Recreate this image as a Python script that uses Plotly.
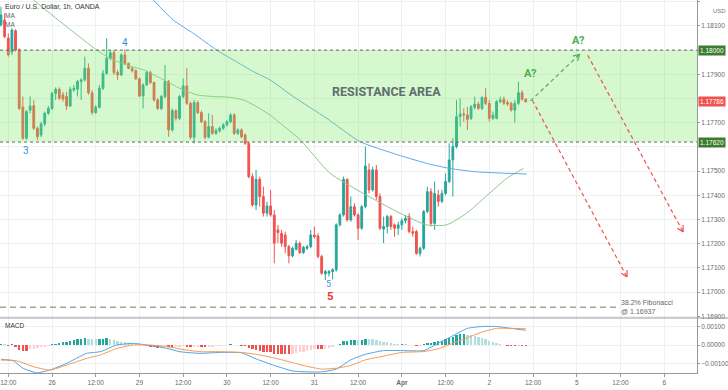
import math
import plotly.graph_objects as go
from plotly.subplots import make_subplots

# ---------------- data (hourly candles, index 0..144) ----------------
opens = [1.18104,1.18124,1.18050,1.17992,1.18080,1.18000,1.17764,1.17636,1.17752,1.17770,
         1.17677,1.17649,1.17695,1.17739,1.17759,1.17821,1.17838,1.17815,1.17808,1.17769,
         1.17835,1.17838,1.17870,1.17877,1.17925,1.17824,1.17742,1.17764,1.17842,1.17904,
         1.17966,1.17989,1.17907,1.17897,1.17980,1.17945,1.17925,1.17915,1.17881,1.17810,
         1.17856,1.17907,1.17866,1.17794,1.17759,1.17808,1.17870,1.17670,1.17750,1.17718,
         1.17808,1.17852,1.17780,1.17640,1.17783,1.17742,1.17704,1.17640,1.17684,1.17656,
         1.17667,1.17677,1.17691,1.17704,1.17732,1.17656,1.17670,1.17649,1.17615,1.17477,
         1.17360,1.17466,1.17395,1.17326,1.17356,1.17319,1.17257,1.17243,1.17236,1.17188,
         1.17150,1.17177,1.17202,1.17163,1.17181,1.17188,1.17236,1.17232,1.17147,1.17075,
         1.17078,1.17085,1.17092,1.17278,1.17319,1.17466,1.17298,1.17353,1.17319,1.17264,
         1.17353,1.17505,1.17422,1.17505,1.17395,1.17261,1.17271,1.17312,1.17278,1.17264,
         1.17278,1.17295,1.17312,1.17250,1.17250,1.17160,1.17181,1.17333,1.17415,1.17284,
         1.17401,1.17374,1.17408,1.17457,1.17546,1.17601,1.17725,1.17736,1.17732,1.17718,
         1.17764,1.17777,1.17759,1.17805,1.17780,1.17718,1.17718,1.17787,1.17797,1.17783,
         1.17780,1.17752,1.17780,1.17824,1.17797]
highs = [1.18179,1.18152,1.18069,1.18090,1.18086,1.18007,1.17808,1.17752,1.17808,1.17794,
         1.17684,1.17704,1.17746,1.17769,1.17828,1.17846,1.17846,1.17828,1.17828,1.17849,
         1.17856,1.17877,1.17883,1.17973,1.17945,1.17835,1.17773,1.17856,1.17918,1.18049,
         1.18000,1.17998,1.17918,1.17987,1.18003,1.17948,1.17932,1.17921,1.17888,1.17863,
         1.17915,1.17915,1.17870,1.17801,1.17815,1.17938,1.17877,1.17759,1.17755,1.17815,
         1.17883,1.17925,1.17787,1.17794,1.17791,1.17750,1.17711,1.17739,1.17732,1.17677,
         1.17684,1.17698,1.17711,1.17739,1.17739,1.17677,1.17677,1.17656,1.17622,1.17491,
         1.17505,1.17477,1.17436,1.17374,1.17422,1.17339,1.17278,1.17257,1.17250,1.17195,
         1.17188,1.17216,1.17209,1.17191,1.17195,1.17257,1.17271,1.17243,1.17154,1.17092,
         1.17092,1.17099,1.17284,1.17326,1.17477,1.17470,1.17395,1.17367,1.17326,1.17360,
         1.17601,1.17532,1.17518,1.17525,1.17408,1.17312,1.17319,1.17319,1.17284,1.17291,
         1.17305,1.17319,1.17326,1.17271,1.17257,1.17188,1.17339,1.17436,1.17429,1.17457,
         1.17422,1.17422,1.17491,1.17615,1.17636,1.17794,1.17801,1.17759,1.17766,1.17773,
         1.17808,1.17787,1.17808,1.17842,1.17794,1.17746,1.17794,1.17808,1.17808,1.17794,
         1.17787,1.17794,1.17870,1.17835,1.17801]
lows = [1.18097,1.18049,1.17973,1.17980,1.17994,1.17752,1.17629,1.17629,1.17739,1.17670,
        1.17629,1.17640,1.17686,1.17732,1.17752,1.17794,1.17794,1.17787,1.17752,1.17764,
        1.17828,1.17808,1.17794,1.17870,1.17815,1.17732,1.17736,1.17759,1.17835,1.17897,
        1.17959,1.17897,1.17877,1.17893,1.17938,1.17921,1.17907,1.17877,1.17805,1.17759,
        1.17852,1.17860,1.17787,1.17752,1.17752,1.17801,1.17642,1.17663,1.17708,1.17711,
        1.17801,1.17773,1.17631,1.17615,1.17736,1.17698,1.17631,1.17636,1.17649,1.17649,
        1.17659,1.17670,1.17684,1.17698,1.17649,1.17649,1.17636,1.17608,1.17470,1.17353,
        1.17339,1.17353,1.17312,1.17312,1.17312,1.17119,1.17202,1.17188,1.17160,1.17119,
        1.17144,1.17172,1.17158,1.17158,1.17174,1.17181,1.17222,1.17140,1.17071,1.17050,
        1.17064,1.17053,1.17085,1.17271,1.17312,1.17291,1.17291,1.17312,1.17216,1.17257,
        1.17346,1.17408,1.17415,1.17381,1.17257,1.17202,1.17243,1.17257,1.17229,1.17236,
        1.17257,1.17284,1.17243,1.17229,1.17154,1.17147,1.17174,1.17326,1.17271,1.17257,
        1.17353,1.17367,1.17401,1.17450,1.17395,1.17594,1.17684,1.17704,1.17670,1.17711,
        1.17755,1.17752,1.17752,1.17773,1.17704,1.17711,1.17714,1.17780,1.17773,1.17769,
        1.17746,1.17700,1.17773,1.17791,1.17787]
closes = [1.18145,1.18056,1.17980,1.18083,1.18000,1.17759,1.17636,1.17746,1.17769,1.17677,
          1.17642,1.17695,1.17739,1.17759,1.17821,1.17838,1.17801,1.17798,1.17769,1.17838,
          1.17842,1.17870,1.17877,1.17925,1.17824,1.17742,1.17764,1.17842,1.17904,1.17966,
          1.17989,1.17907,1.17897,1.17980,1.17945,1.17925,1.17915,1.17881,1.17810,1.17856,
          1.17907,1.17866,1.17794,1.17759,1.17808,1.17870,1.17670,1.17750,1.17718,1.17808,
          1.17852,1.17780,1.17640,1.17783,1.17742,1.17704,1.17640,1.17684,1.17656,1.17667,
          1.17677,1.17691,1.17704,1.17732,1.17656,1.17670,1.17642,1.17615,1.17477,1.17360,
          1.17466,1.17395,1.17326,1.17356,1.17319,1.17202,1.17246,1.17202,1.17188,1.17150,
          1.17181,1.17202,1.17163,1.17185,1.17188,1.17236,1.17229,1.17147,1.17078,1.17085,
          1.17085,1.17092,1.17278,1.17319,1.17466,1.17298,1.17353,1.17319,1.17264,1.17353,
          1.17521,1.17422,1.17505,1.17395,1.17264,1.17271,1.17312,1.17271,1.17264,1.17278,
          1.17295,1.17305,1.17250,1.17243,1.17160,1.17181,1.17333,1.17415,1.17284,1.17408,
          1.17374,1.17408,1.17457,1.17546,1.17601,1.17725,1.17736,1.17732,1.17714,1.17766,
          1.17777,1.17759,1.17805,1.17780,1.17718,1.17732,1.17787,1.17794,1.17780,1.17777,
          1.17752,1.17780,1.17824,1.17797,1.17786]

# moving averages (candle index, price)
ma_fast_idx = [8.9, 18.0, 26.3, 29.9, 34.5, 39.1, 44.6, 49.1, 53.7, 58.3, 62.9, 66.5, 70.2, 73.8,
               76.6, 82.1, 90.3, 99.4, 109.5, 116.8, 122.3, 127.8, 131.5, 138.8, 143.4]
ma_fast_vals = [1.18207, 1.18097, 1.18000, 1.17966, 1.17938, 1.17918, 1.17877, 1.17842, 1.17815,
                1.17808, 1.17805, 1.17794, 1.17766, 1.17732, 1.17698, 1.17630, 1.17491, 1.17408,
                1.17326, 1.17278, 1.17278, 1.17326, 1.17374, 1.17470, 1.17511]
ma_slow_idx = [41.8, 47.3, 52.8, 59.2, 63.8, 69.3, 73.8, 80.2, 89.4, 98.5, 107.7, 116.8, 123.2,
               130.5, 144.3]
ma_slow_vals = [1.18207, 1.18124, 1.18069, 1.18000, 1.17959, 1.17911, 1.17877, 1.17808, 1.17718,
                1.17622, 1.17573, 1.17532, 1.17511, 1.17497, 1.17488]

# MACD histogram (one per candle)
macd_hist = [0.00008,0.00005,-0.00003,0.00004,-0.00012,-0.00025,-0.00030,-0.00030,-0.00022,-0.00020,
             -0.00018,-0.00012,-0.00008,-0.00004,0.00005,0.00008,0.00012,0.00016,0.00018,0.00022,
             0.00026,0.00030,0.00033,0.00036,0.00034,0.00033,0.00030,0.00030,0.00032,0.00036,
             0.00033,0.00028,0.00022,0.00018,0.00014,0.00010,0.00006,0.00003,-0.00002,0.00001,
             -0.00003,-0.00008,-0.00012,-0.00014,-0.00010,-0.00006,-0.00012,-0.00014,-0.00012,-0.00010,
             -0.00006,-0.00008,-0.00012,-0.00010,-0.00008,-0.00009,-0.00011,-0.00009,-0.00008,-0.00006,
             -0.00004,-0.00002,0.00001,0.00003,0.00001,-0.00001,-0.00003,-0.00006,-0.00014,-0.00024,
             -0.00028,-0.00032,-0.00036,-0.00038,-0.00040,-0.00046,-0.00048,-0.00049,-0.00050,-0.00050,
             -0.00046,-0.00042,-0.00040,-0.00036,-0.00032,-0.00026,-0.00022,-0.00022,-0.00024,-0.00020,
             -0.00016,-0.00012,-0.00002,0.00008,0.00020,0.00022,0.00026,0.00027,0.00025,0.00028,
             0.00034,0.00033,0.00032,0.00028,0.00020,0.00016,0.00014,0.00011,0.00008,0.00006,
             0.00006,0.00005,0.00002,0.00000,-0.00004,-0.00003,0.00004,0.00012,0.00012,0.00018,
             0.00020,0.00024,0.00030,0.00038,0.00046,0.00056,0.00060,0.00060,0.00056,0.00052,
             0.00048,0.00042,0.00038,0.00032,0.00022,0.00016,0.00012,0.00006,0.00002,-0.00003,
             -0.00006,-0.00006,-0.00004,-0.00006,-0.00007]
macd_idx = [0, 3.4, 6.1, 9.8, 13.4, 18.0, 23.5, 27.2, 31.8, 36.3, 40.0, 45.5, 49.1, 54.6, 60, 66,
            70, 75, 80, 84, 88, 92, 96, 100, 105, 110, 116, 120, 124, 128, 132, 136, 140, 144]
macd_vals = [-0.00077, -0.00085, -0.00126, -0.00150, -0.00135, -0.00099, -0.00045, -0.00036, 0.0,
             0.00009, 0.0, -0.00018, -0.00036, -0.00045, -0.00040, -0.00042, -0.00075, -0.00110,
             -0.00140, -0.00145, -0.00145, -0.00130, -0.00080, -0.00050, -0.00030, -0.00030,
             -0.00030, 0.00010, 0.00050, 0.00090, 0.00100, 0.00100, 0.00090, 0.00080]
signal_idx = [0, 4.3, 8.9, 13.4, 18.0, 23.5, 27.2, 31.8, 36.3, 40.9, 45.5, 51.0, 54.6, 60, 66, 70,
              75, 80, 84, 88, 92, 96, 100, 105, 110, 116, 120, 124, 128, 132, 136, 140, 144]
signal_vals = [-0.00081, -0.00085, -0.00117, -0.00135, -0.00108, -0.00072, -0.00054, -0.00018,
               0.0, 0.0, -0.00009, -0.00027, -0.00036, -0.00036, -0.00040, -0.00050, -0.00070,
               -0.00095, -0.00115, -0.00130, -0.00125, -0.00110, -0.00080, -0.00060, -0.00040,
               -0.00035, -0.00020, 0.00010, 0.00040, 0.00070, 0.00090, 0.00090, 0.00088]

tick_vals = [2, 14, 26, 38, 50, 62, 74, 86, 98, 110, 122, 134, 146, 158, 170, 182]
tick_text = ["12:00", "26", "12:00", "29", "12:00", "30", "12:00", "31", "12:00", "<b>Apr</b>",
             "12:00", "2", "12:00", "5", "12:00", "6"]
price_ticks = [1.169, 1.170, 1.171, 1.172, 1.173, 1.174, 1.175, 1.176, 1.177, 1.178, 1.179,
               1.180, 1.181, 1.182]
price_tick_text = ["1.16900", "1.17000", "1.17100", "1.17200", "1.17300", "1.17400", "1.17500",
                   "", "1.17700", "", "1.17900", "", "1.18100", "1.18200"]
macd_ticks = [-0.001, 0.0, 0.001]
macd_tick_text = ["\u22120.00100", "0.00000", "0.00100"]

resist_top = 1.18000
resist_bottom = 1.17620
fib_level = 1.16937
last_price = 1.17786

# ---------------- layout constants ----------------
W, H = 728, 390
MR, MB = 31, 17
PLOT_W, PLOT_H = W - MR, H - MB
MAIN_H = 318
split = (PLOT_H - MAIN_H) / PLOT_H
X_RANGE = [-0.27, 191.0]
Y_RANGE = [1.16893, 1.18207]
M_RANGE = [-0.00151, 0.00146]
FONT = "Liberation Sans, Arial, sans-serif"

fig = make_subplots(rows=2, cols=1, shared_xaxes=True, vertical_spacing=0)
idx = list(range(len(closes)))

fig.add_trace(go.Candlestick(
    x=idx, open=opens, high=highs, low=lows, close=closes,
    increasing=dict(line=dict(color="#26a69a", width=1), fillcolor="#26a69a"),
    decreasing=dict(line=dict(color="#ef5350", width=1), fillcolor="#ef5350"),
    whiskerwidth=0, hoverinfo="skip", showlegend=False), row=1, col=1)

fig.add_trace(go.Scatter(x=ma_fast_idx, y=ma_fast_vals, mode="lines",
                         line=dict(color="#8cc98c", width=1, shape="spline", smoothing=0.6),
                         showlegend=False, hoverinfo="skip"), row=1, col=1)
fig.add_trace(go.Scatter(x=ma_slow_idx, y=ma_slow_vals, mode="lines",
                         line=dict(color="#62a8e5", width=1, shape="spline", smoothing=0.6),
                         showlegend=False, hoverinfo="skip"), row=1, col=1)

# histogram colours (TradingView style)
hcols = []
for k, v in enumerate(macd_hist):
    prev = macd_hist[k - 1] if k > 0 else v
    if v >= 0:
        hcols.append("#26a69a" if v >= prev else "#b2dfdb")
    else:
        hcols.append("#ef5350" if v <= prev else "#ffcdd2")
fig.add_trace(go.Bar(x=idx, y=macd_hist, marker=dict(color=hcols, line=dict(width=0)),
                     width=0.65, showlegend=False, hoverinfo="skip"), row=2, col=1)
fig.add_trace(go.Scatter(x=macd_idx, y=macd_vals, mode="lines",
                         line=dict(color="#4fa3e8", width=1, shape="spline", smoothing=0.5),
                         showlegend=False, hoverinfo="skip"), row=2, col=1)
fig.add_trace(go.Scatter(x=signal_idx, y=signal_vals, mode="lines",
                         line=dict(color="#f59a50", width=1, shape="spline", smoothing=0.5),
                         showlegend=False, hoverinfo="skip"), row=2, col=1)

grid = "#eef0f4"
tickfont = dict(size=6.5, color="#666")
fig.update_layout(
    width=W, height=H, margin=dict(l=0, r=MR, t=0, b=MB, autoexpand=False),
    paper_bgcolor="white", plot_bgcolor="white", bargap=0,
    font=dict(family=FONT, size=7, color="#555"),
    xaxis=dict(domain=[0, 1], range=X_RANGE, tickvals=tick_vals, showticklabels=False,
               showgrid=True, gridcolor=grid, zeroline=False, rangeslider=dict(visible=False),
               showline=False),
    xaxis2=dict(domain=[0, 1], range=X_RANGE, tickvals=tick_vals, ticktext=tick_text,
                showgrid=True, gridcolor=grid, zeroline=False, ticks="outside", ticklen=3,
                tickcolor="#999", tickfont=tickfont, showline=True,
                linecolor="#999", linewidth=1),
    yaxis=dict(domain=[split, 1], range=Y_RANGE, side="right", tickvals=price_ticks,
               ticktext=price_tick_text, showgrid=True, gridcolor=grid, zeroline=False,
               ticks="outside", ticklen=2, tickcolor="#999", tickfont=tickfont,
               showline=True, linecolor="#999", linewidth=1),
    yaxis2=dict(domain=[0, split], range=M_RANGE, side="right", tickvals=macd_ticks,
                ticktext=macd_tick_text, showgrid=True, gridcolor=grid, zeroline=False,
                ticks="outside", ticklen=2, tickcolor="#999", tickfont=tickfont,
                showline=True, linecolor="#999", linewidth=1),
)

# resistance zone (semi-transparent, above candles) + dotted borders
fig.add_shape(type="rect", xref="x", yref="y", x0=X_RANGE[0], x1=X_RANGE[1],
              y0=resist_bottom, y1=resist_top, fillcolor="rgba(118,232,92,0.30)",
              line=dict(width=0), layer="above")
for lvl in (resist_top, resist_bottom):
    fig.add_shape(type="line", xref="x", yref="y", x0=X_RANGE[0], x1=X_RANGE[1], y0=lvl, y1=lvl,
                  line=dict(color="#666", width=1, dash="dot"), layer="above")

# fibonacci line
fig.add_shape(type="line", xref="x", yref="y", x0=X_RANGE[0], x1=169, y0=fib_level, y1=fib_level,
              line=dict(color="#a3a68e", width=1.5, dash="6px,4px"), layer="above")

# pane separator spanning into the price-scale column
fig.add_shape(type="line", xref="paper", yref="paper", x0=0, x1=W / PLOT_W, y0=split, y1=split,
              line=dict(color="#999", width=1))

# ---- dashed projection arrows ----
px_per_x = PLOT_W / (X_RANGE[1] - X_RANGE[0])
px_per_y = MAIN_H / (Y_RANGE[1] - Y_RANGE[0])


def arrow(x0, y0, x1, y1, color):
    fig.add_shape(type="line", xref="x", yref="y", x0=x0, y0=y0, x1=x1, y1=y1,
                  line=dict(color=color, width=1.2, dash="4px,3px"), layer="above")
    dxp = (x1 - x0) * px_per_x
    dyp = (y1 - y0) * px_per_y
    ang = math.atan2(dyp, dxp)
    L = 7
    for s in (+1, -1):
        a = ang + math.pi + s * math.radians(28)
        hx = x1 + L * math.cos(a) / px_per_x
        hy = y1 + L * math.sin(a) / px_per_y
        fig.add_shape(type="line", xref="x", yref="y", x0=x1, y0=y1, x1=hx, y1=hy,
                      line=dict(color=color, width=1.2), layer="above")


arrow(145.3, 1.17790, 158.8, 1.17983, "#4caf50")
arrow(145.8, 1.17793, 171.8, 1.17062, "#ef5350")
arrow(161.0, 1.17979, 187.2, 1.17248, "#ef5350")

# ---- text annotations ----
ann = []
ann.append(dict(x=0.005, y=0.997, xref="paper", yref="paper", xanchor="left", yanchor="top",
                text="Euro / U.S. Dollar, 1h, OANDA", showarrow=False,
                font=dict(size=7, color="#333")))
ann.append(dict(x=0.005, y=0.972, xref="paper", yref="paper", xanchor="left", yanchor="top",
                text="MA", showarrow=False, font=dict(size=6.5, color="#666")))
ann.append(dict(x=0.005, y=0.950, xref="paper", yref="paper", xanchor="left", yanchor="top",
                text="MA", showarrow=False, font=dict(size=6.5, color="#666")))
ann.append(dict(x=0.005, y=split - 0.005, xref="paper", yref="paper", xanchor="left",
                yanchor="top", text="MACD", showarrow=False, font=dict(size=6.5, color="#333")))
ann.append(dict(x=105.7, y=1.17831, xref="x", yref="y", text="<b>RESISTANCE AREA</b>",
                showarrow=False, font=dict(size=12.5, color="#5f6e70", family="Roboto, sans-serif")))
ann.append(dict(x=145.4, y=1.17905, xref="x", yref="y", text="<b>A?</b>", showarrow=False,
                font=dict(size=11, color="#4caf50", family="Roboto, sans-serif")))
ann.append(dict(x=158.4, y=1.18041, xref="x", yref="y", text="<b>A?</b>", showarrow=False,
                font=dict(size=11, color="#4caf50", family="Roboto, sans-serif")))
ann.append(dict(x=7.0, y=1.17587, xref="x", yref="y", text="3", showarrow=False,
                font=dict(size=10, color="#3d8fd6", family="Roboto, sans-serif")))
ann.append(dict(x=34.0, y=1.18033, xref="x", yref="y", text="4", showarrow=False,
                font=dict(size=10, color="#3d8fd6", family="Roboto, sans-serif")))
ann.append(dict(x=90.0, y=1.17140, xref="x", yref="y", yshift=-26, text="5", showarrow=False,
                font=dict(size=9, color="#3d8fd6", family="Roboto, sans-serif")))
ann.append(dict(x=90.4, y=1.17140, xref="x", yref="y", yshift=-38, text="<b>5</b>",
                showarrow=False, font=dict(size=11.5, color="#e53935", family="Roboto, sans-serif")))
ann.append(dict(x=169.5, y=fib_level, xref="x", yref="y", xanchor="left", yanchor="middle",
                text="38.2% Fibonacci<br>@ 1.16937", align="left", showarrow=False,
                font=dict(size=7, color="#666")))
# price-scale tags
for price, col in ((resist_top, "#3b7d2c"), (last_price, "#ef5350"), (resist_bottom, "#3b7d2c")):
    ann.append(dict(x=1.0, y=price, xref="paper", yref="y", xanchor="left", yanchor="middle",
                    xshift=1, text=f"{price:.5f}", showarrow=False, bgcolor=col, borderpad=1,
                    font=dict(size=6.5, color="white")))
ann.append(dict(x=1.02, y=0.983, xref="paper", yref="paper", xanchor="left", yanchor="top",
                text="USD", showarrow=False, font=dict(size=6, color="#777")))
fig.update_layout(annotations=ann)

fig.write_html("out.html", config={"displayModeBar": False, "staticPlot": True},
               post_script="document.body.style.margin='0';document.body.style.overflow='hidden';")
